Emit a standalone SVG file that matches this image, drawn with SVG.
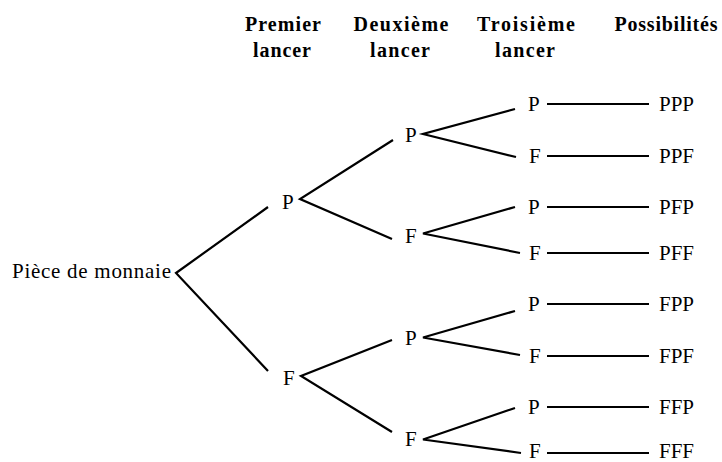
<svg xmlns="http://www.w3.org/2000/svg" width="722" height="462" viewBox="0 0 722 462">
<style>
.h{font-family:"Liberation Serif","Times New Roman",serif;font-weight:bold;font-size:20px;text-anchor:middle;fill:#000}
.t{font-family:"Liberation Serif","Times New Roman",serif;font-size:21px;fill:#000}
.e{stroke:#000;stroke-width:2.2;fill:none;stroke-linecap:butt}
</style>
<rect width="722" height="462" fill="#fff"/>
<g id="headers">
<text class="h" x="283" y="31" textLength="76" lengthAdjust="spacing">Premier</text>
<text class="h" x="282" y="57" textLength="58" lengthAdjust="spacing">lancer</text>
<text class="h" x="401" y="31" textLength="95" lengthAdjust="spacing">Deuxième</text>
<text class="h" x="400" y="57" textLength="60" lengthAdjust="spacing">lancer</text>
<text class="h" x="526" y="31" textLength="98" lengthAdjust="spacing">Troisième</text>
<text class="h" x="525" y="57" textLength="60" lengthAdjust="spacing">lancer</text>
<text class="h" x="666" y="31" textLength="103" lengthAdjust="spacing">Possibilités</text>
</g>
<g id="connectors">
<path class="e" d="M268,207 L176,273 L268,371"/>
<path class="e" d="M393,140 L300,199 L392,239"/>
<path class="e" d="M392,340 L301,376 L392,432"/>
<path class="e" d="M515,109 L423,134 L516,157"/>
<path class="e" d="M515,207 L423,233.5 L520,253"/>
<path class="e" d="M515,311 L423,337.5 L520,355"/>
<path class="e" d="M515,408 L423,439.5 L521,453"/>
<path class="e" d="M547,104 H649 M547,156 H649 M547,207 H649 M547,253 H649 M547,304 H649 M547,356 H649 M547,407 H649 M547,453 H649"/>
</g>
<g id="root"><text class="t" x="12" y="278" textLength="159" lengthAdjust="spacing">Pièce de monnaie</text></g>
<g id="n1P"><text class="t" x="282" y="208.5">P</text></g>
<g id="n1F"><text class="t" x="283" y="385">F</text></g>
<g id="n2PP"><text class="t" x="405" y="141.5">P</text></g>
<g id="n2PF"><text class="t" x="405" y="243">F</text></g>
<g id="n2FP"><text class="t" x="405" y="345">P</text></g>
<g id="n2FF"><text class="t" x="405" y="446">F</text></g>
<g id="n3PPP"><text class="t" x="528" y="110.5">P</text></g>
<g id="n3PPF"><text class="t" x="529" y="162.5">F</text></g>
<g id="n3PFP"><text class="t" x="528" y="213.5">P</text></g>
<g id="n3PFF"><text class="t" x="529" y="259.5">F</text></g>
<g id="n3FPP"><text class="t" x="528" y="310.5">P</text></g>
<g id="n3FPF"><text class="t" x="529" y="362.5">F</text></g>
<g id="n3FFP"><text class="t" x="528" y="413.5">P</text></g>
<g id="n3FFF"><text class="t" x="529" y="458">F</text></g>
<g id="oPPP"><text class="t" x="659" y="110.5">PPP</text></g>
<g id="oPPF"><text class="t" x="659" y="162.5">PPF</text></g>
<g id="oPFP"><text class="t" x="659" y="213.5">PFP</text></g>
<g id="oPFF"><text class="t" x="659" y="259.5">PFF</text></g>
<g id="oFPP"><text class="t" x="659" y="310.5">FPP</text></g>
<g id="oFPF"><text class="t" x="659" y="362.5">FPF</text></g>
<g id="oFFP"><text class="t" x="659" y="413.5">FFP</text></g>
<g id="oFFF"><text class="t" x="659" y="458">FFF</text></g>
</svg>
